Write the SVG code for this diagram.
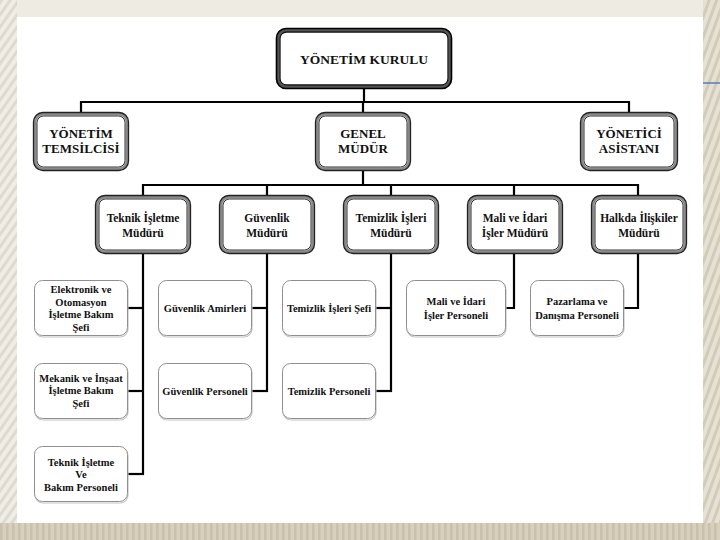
<svg xmlns="http://www.w3.org/2000/svg" width="720" height="540" viewBox="0 0 720 540">
  <defs>
    <pattern id="diag" width="7" height="7" patternUnits="userSpaceOnUse" patternTransform="rotate(35)">
      <rect width="7" height="7" fill="#efede6"/>
      <rect width="3" height="7" fill="#dedacf"/>
    </pattern>
    <pattern id="diagR" width="7" height="7" patternUnits="userSpaceOnUse" patternTransform="rotate(20)">
      <rect width="7" height="7" fill="#e6e1d4"/>
      <rect width="3" height="7" fill="#d2cbb8"/>
    </pattern>
    <pattern id="vert" width="6" height="10" patternUnits="userSpaceOnUse">
      <rect width="6" height="10" fill="#d7d0bd"/>
      <rect width="2.5" height="10" fill="#c9c1ab"/>
    </pattern>
    <style>
      .t { font-family: 'Liberation Serif', 'Times New Roman', 'DejaVu Serif', serif; font-weight: bold; fill: #111; text-anchor: middle; }
      .t1 { font-size: 13.5px; }
      .t2 { font-size: 13px; }
      .t3 { font-size: 11.5px; }
      .t4 { font-size: 10.5px; }
      .bx { fill: #ffffff; stroke: #8a8a8a; stroke-width: 3; }
      .bxo { fill: none; stroke: #222; stroke-width: 1.3; }
      .bxi { fill: none; stroke: #333; stroke-width: 1; }
      .top .bx { stroke: #555; stroke-width: 3.5; }
      .top .bxo { stroke: #000; stroke-width: 1.6; }
      .top .bxi { stroke: #111; stroke-width: 1.3; }
      .sm { fill: #ffffff; stroke: #8f8f8f; stroke-width: 1; }
      .sms { fill: none; stroke: #c4c4c4; stroke-width: 1.2; }
      .conn line, .conn polyline { stroke: #000; stroke-width: 2.2; fill: none; }
    </style>
  </defs>

  <!-- background -->
  <rect x="0" y="0" width="720" height="540" fill="#eeebe3"/>
  <rect x="0" y="0" width="17" height="523" fill="url(#diag)"/>
  <rect x="703" y="0" width="17" height="540" fill="url(#diagR)"/>
  <rect x="0" y="523" width="720" height="17" fill="url(#vert)"/>
  <rect x="17" y="17" width="686" height="506" fill="#ffffff"/>
  <line x1="703" y1="83" x2="720" y2="83" stroke="#4f81bd" stroke-width="1.5"/>

  <!-- connectors -->
  <g id="connectors" class="conn">
    <line x1="364" y1="88" x2="364" y2="102"/>
    <line x1="81" y1="102" x2="629" y2="102"/>
    <line x1="81" y1="101" x2="81" y2="113"/>
    <line x1="629" y1="101" x2="629" y2="113"/>
    <line x1="363" y1="102" x2="363" y2="113"/>
    <line x1="363" y1="170" x2="363" y2="185"/>
    <line x1="143" y1="185" x2="638" y2="185"/>
    <line x1="143" y1="184" x2="143" y2="196"/>
    <line x1="267" y1="184" x2="267" y2="196"/>
    <line x1="391" y1="184" x2="391" y2="196"/>
    <line x1="514" y1="184" x2="514" y2="196"/>
    <line x1="638" y1="184" x2="638" y2="196"/>
    <line x1="143" y1="253" x2="143" y2="475"/>
    <line x1="128" y1="308" x2="144" y2="308"/>
    <line x1="128" y1="391" x2="144" y2="391"/>
    <line x1="128" y1="474" x2="144" y2="474"/>
    <line x1="267" y1="253" x2="267" y2="392"/>
    <line x1="252" y1="308" x2="268" y2="308"/>
    <line x1="252" y1="391" x2="268" y2="391"/>
    <line x1="391" y1="253" x2="391" y2="392"/>
    <line x1="376" y1="308" x2="392" y2="308"/>
    <line x1="376" y1="391" x2="392" y2="391"/>
    <polyline points="514,253 514,308 506,308"/>
    <polyline points="638,253 638,308 624,308"/>
  </g>

  <!-- level 1 -->
  <g id="yonetim-kurulu" class="top">
    <rect class="bx" x="278" y="30" width="172" height="57" rx="8"/>
    <rect class="bxo" x="276.5" y="28.5" width="175" height="60" rx="9.5"/>
    <rect class="bxi" x="280" y="32" width="168" height="53" rx="6.5"/>
    <text class="t t1" x="364" y="63.5">YÖNETİM KURULU</text>
  </g>

  <!-- level 2 -->
  <g id="yonetim-temsilcisi">
    <rect class="bx" x="35" y="114" width="92" height="55" rx="8"/>
    <rect class="bxo" x="33.5" y="112.5" width="95" height="58" rx="9.5"/>
    <rect class="bxi" x="37" y="116" width="88" height="51" rx="6.5"/>
    <text class="t t2" x="81" y="138">YÖNETİM</text>
    <text class="t t2" x="81" y="153">TEMSİLCİSİ</text>
  </g>
  <g id="genel-mudur">
    <rect class="bx" x="317" y="114" width="92" height="55" rx="8"/>
    <rect class="bxo" x="315.5" y="112.5" width="95" height="58" rx="9.5"/>
    <rect class="bxi" x="319" y="116" width="88" height="51" rx="6.5"/>
    <text class="t t2" x="363" y="138">GENEL</text>
    <text class="t t2" x="363" y="153">MÜDÜR</text>
  </g>
  <g id="yonetici-asistani">
    <rect class="bx" x="582" y="114" width="94" height="55" rx="8"/>
    <rect class="bxo" x="580.5" y="112.5" width="97" height="58" rx="9.5"/>
    <rect class="bxi" x="584" y="116" width="90" height="51" rx="6.5"/>
    <text class="t t2" x="629" y="138">YÖNETİCİ</text>
    <text class="t t2" x="629" y="153">ASİSTANI</text>
  </g>

  <!-- level 3 -->
  <g id="teknik-isletme-muduru">
    <rect class="bx" x="97" y="197" width="92" height="55" rx="8"/>
    <rect class="bxo" x="95.5" y="195.5" width="95" height="58" rx="9.5"/>
    <rect class="bxi" x="99" y="199" width="88" height="51" rx="6.5"/>
    <text class="t t3" x="143" y="222">Teknik İşletme</text>
    <text class="t t3" x="143" y="237">Müdürü</text>
  </g>
  <g id="guvenlik-muduru">
    <rect class="bx" x="221" y="197" width="92" height="55" rx="8"/>
    <rect class="bxo" x="219.5" y="195.5" width="95" height="58" rx="9.5"/>
    <rect class="bxi" x="223" y="199" width="88" height="51" rx="6.5"/>
    <text class="t t3" x="267" y="222">Güvenlik</text>
    <text class="t t3" x="267" y="237">Müdürü</text>
  </g>
  <g id="temizlik-isleri-muduru">
    <rect class="bx" x="345" y="197" width="92" height="55" rx="8"/>
    <rect class="bxo" x="343.5" y="195.5" width="95" height="58" rx="9.5"/>
    <rect class="bxi" x="347" y="199" width="88" height="51" rx="6.5"/>
    <text class="t t3" x="391" y="222">Temizlik İşleri</text>
    <text class="t t3" x="391" y="237">Müdürü</text>
  </g>
  <g id="mali-idari-isler-muduru">
    <rect class="bx" x="469" y="197" width="92" height="55" rx="8"/>
    <rect class="bxo" x="467.5" y="195.5" width="95" height="58" rx="9.5"/>
    <rect class="bxi" x="471" y="199" width="88" height="51" rx="6.5"/>
    <text class="t t3" x="515" y="222">Mali ve İdari</text>
    <text class="t t3" x="515" y="237">İşler Müdürü</text>
  </g>
  <g id="halkla-iliskiler-muduru">
    <rect class="bx" x="593" y="197" width="92" height="55" rx="8"/>
    <rect class="bxo" x="591.5" y="195.5" width="95" height="58" rx="9.5"/>
    <rect class="bxi" x="595" y="199" width="88" height="51" rx="6.5"/>
    <text class="t t3" x="639" y="222">Halkda İlişkiler</text>
    <text class="t t3" x="639" y="237">Müdürü</text>
  </g>

  <!-- level 4 -->
  <g id="elektronik-sefi">
    <rect class="sms" x="35" y="281.5" width="93" height="55.5" rx="8"/>
    <rect class="sm" x="34.5" y="280.5" width="93" height="55" rx="8"/>
    <text class="t t4" x="81" y="293">Elektronik ve</text>
    <text class="t t4" x="81" y="305.5">Otomasyon</text>
    <text class="t t4" x="81" y="318">İşletme Bakım</text>
    <text class="t t4" x="81" y="330.5">Şefi</text>
  </g>
  <g id="mekanik-sefi">
    <rect class="sms" x="35" y="364.5" width="93" height="55.5" rx="8"/>
    <rect class="sm" x="34.5" y="363.5" width="93" height="55" rx="8"/>
    <text class="t t4" x="81" y="381.5">Mekanik ve İnşaat</text>
    <text class="t t4" x="81" y="394">İşletme Bakım</text>
    <text class="t t4" x="81" y="406.5">Şefi</text>
  </g>
  <g id="teknik-personel">
    <rect class="sms" x="35" y="447.5" width="93" height="55.5" rx="8"/>
    <rect class="sm" x="34.5" y="446.5" width="93" height="55" rx="8"/>
    <text class="t t4" x="81" y="465.5">Teknik İşletme</text>
    <text class="t t4" x="81" y="478">Ve</text>
    <text class="t t4" x="81" y="490.5">Bakım Personeli</text>
  </g>
  <g id="guvenlik-amirleri">
    <rect class="sms" x="159" y="281.5" width="93" height="55.5" rx="8"/>
    <rect class="sm" x="158.5" y="280.5" width="93" height="55" rx="8"/>
    <text class="t t4" x="205" y="311.5">Güvenlik Amirleri</text>
  </g>
  <g id="guvenlik-personeli">
    <rect class="sms" x="159" y="364.5" width="93" height="55.5" rx="8"/>
    <rect class="sm" x="158.5" y="363.5" width="93" height="55" rx="8"/>
    <text class="t t4" x="205" y="394.5">Güvenlik Personeli</text>
  </g>
  <g id="temizlik-isleri-sefi">
    <rect class="sms" x="283" y="281.5" width="93" height="55.5" rx="8"/>
    <rect class="sm" x="282.5" y="280.5" width="93" height="55" rx="8"/>
    <text class="t t4" x="329" y="311.5">Temizlik İşleri Şefi</text>
  </g>
  <g id="temizlik-personeli">
    <rect class="sms" x="283" y="364.5" width="93" height="55.5" rx="8"/>
    <rect class="sm" x="282.5" y="363.5" width="93" height="55" rx="8"/>
    <text class="t t4" x="329" y="394.5">Temizlik Personeli</text>
  </g>
  <g id="mali-idari-personeli">
    <rect class="sms" x="407" y="281.5" width="99" height="55.5" rx="8"/>
    <rect class="sm" x="406.5" y="280.5" width="99" height="55" rx="8"/>
    <text class="t t4" x="456" y="305">Mali ve İdari</text>
    <text class="t t4" x="456" y="319">İşler Personeli</text>
  </g>
  <g id="pazarlama-personeli">
    <rect class="sms" x="531" y="281.5" width="93" height="55.5" rx="8"/>
    <rect class="sm" x="530.5" y="280.5" width="93" height="55" rx="8"/>
    <text class="t t4" x="577" y="305">Pazarlama ve</text>
    <text class="t t4" x="577" y="319">Danışma Personeli</text>
  </g>
</svg>
